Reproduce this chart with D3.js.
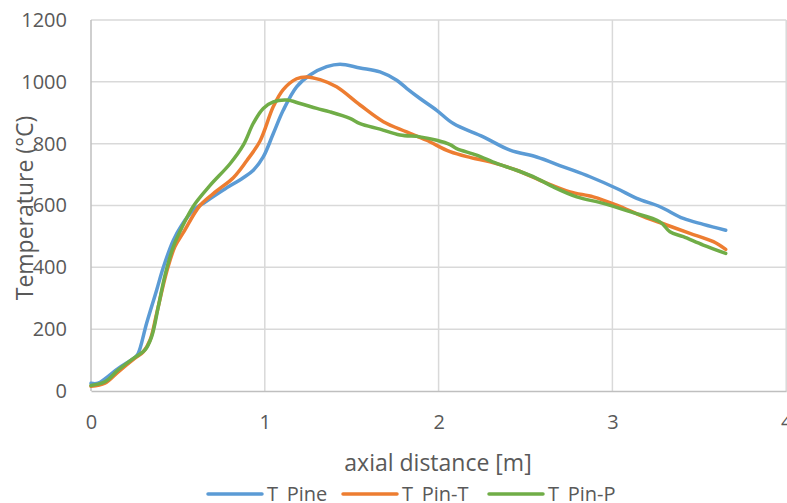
<!DOCTYPE html>
<html><head><meta charset="utf-8">
<script src="https://cdn.jsdelivr.net/npm/d3@7"></script>
<style>html,body{margin:0;padding:0;background:#fff;overflow:hidden}</style>
</head><body>
<svg id="c" width="787" height="503"></svg>
<script>
const seriesNames = ["T_Pine", "T_Pin-T", "T_Pin-P"];
const seriesColors = ["#5B9BD5", "#ED7D31", "#70AD47"];
const xTicks = [0, 1, 2, 3, 4];
const yTicks = [0, 200, 400, 600, 800, 1000, 1200];
const xTitle = "axial distance [m]";
const yTitle = "Temperature (°C)";

const tPine = [[0,25],[0.04,25],[0.157,73],[0.253,109],[0.272,122],[0.32,219],[0.378,327],[0.415,398],[0.474,488],[0.52,535],[0.589,585],[0.646,607],[0.761,650],[0.876,690],[0.934,714],[0.991,757],[1.049,833],[1.106,908],[1.183,984],[1.26,1022],[1.356,1049],[1.433,1057],[1.548,1045],[1.663,1032],[1.759,1005],[1.816,979],[1.893,946],[1.989,908],[2.085,865],[2.257,822],[2.411,779],[2.564,757],[2.718,725],[2.871,693],[3.025,655],[3.14,623],[3.274,596],[3.408,558],[3.523,539],[3.652,520]];
const tPinT = [[0,15],[0.08,25],[0.157,62],[0.253,106],[0.301,127],[0.34,165],[0.378,251],[0.435,385],[0.483,467],[0.531,512],[0.627,600],[0.723,647],[0.819,690],[0.896,745],[0.972,808],[1.049,920],[1.106,975],[1.183,1010],[1.241,1016],[1.318,1007],[1.413,984],[1.548,925],[1.682,871],[1.816,838],[1.931,811],[2.066,774],[2.185,755],[2.296,741],[2.449,714],[2.602,677],[2.756,644],[2.89,628],[3.025,601],[3.178,564],[3.312,537],[3.446,510],[3.581,483],[3.652,458]];
const tPinP = [[0,18],[0.08,30],[0.157,68],[0.253,109],[0.311,133],[0.349,176],[0.387,272],[0.426,375],[0.474,467],[0.52,525],[0.589,598],[0.685,665],[0.8,735],[0.876,795],[0.934,866],[0.991,914],[1.049,935],[1.126,941],[1.203,930],[1.299,914],[1.375,903],[1.49,882],[1.548,865],[1.663,847],[1.778,828],[1.893,822],[1.989,811],[2.066,797],[2.104,784],[2.219,763],[2.334,736],[2.449,714],[2.564,688],[2.66,660],[2.795,628],[2.948,607],[3.101,580],[3.274,547],[3.331,515],[3.408,499],[3.523,472],[3.652,445]];
const allSeries = [tPine, tPinT, tPinP];

const svg = d3.select("#c");
const font = "'Open Sans', 'Liberation Sans', sans-serif";
const textColor = "#595959";
const x = d3.scaleLinear().domain([0, 4]).range([91, 786.2]);
const y = d3.scaleLinear().domain([0, 1200]).range([391, 20]);

// gridlines
const grid = svg.append("g");
grid.selectAll("line.h").data(yTicks.filter(d => d > 0)).enter().append("line")
  .attr("x1", x(0)).attr("x2", x(4)).attr("y1", d => y(d)).attr("y2", d => y(d))
  .attr("stroke", "#d9d9d9").attr("stroke-width", 1.5);
grid.selectAll("line.v").data(xTicks.filter(d => d > 0)).enter().append("line")
  .attr("x1", d => x(d)).attr("x2", d => x(d)).attr("y1", y(0)).attr("y2", y(1200))
  .attr("stroke", "#d9d9d9").attr("stroke-width", 1.5);

// axes
const xAxis = svg.append("g").attr("transform", `translate(0,${y(0)})`)
  .call(d3.axisBottom(x).tickValues(xTicks).tickSize(0).tickPadding(24).tickFormat(d3.format("d")));
const yAxis = svg.append("g").attr("transform", `translate(${x(0)},0)`)
  .call(d3.axisLeft(y).tickValues(yTicks).tickSize(0).tickPadding(24).tickFormat(d3.format("d")));
[xAxis, yAxis].forEach(a => {
  a.select(".domain").attr("stroke", "#bfbfbf").attr("stroke-width", 1.5);
  a.selectAll("text").attr("fill", textColor).style("font-family", font).style("font-size", "20px");
});
yAxis.select(".domain").attr("d", `M0,${y(0)}V${y(1200)}`);

// lines
const line = d3.line().x(d => x(d[0])).y(d => y(d[1])).curve(d3.curveCatmullRom.alpha(0.5));
allSeries.forEach((s, i) => {
  svg.append("path").datum(s).attr("d", line).attr("fill", "none")
    .attr("stroke", seriesColors[i]).attr("stroke-width", 3.5)
    .attr("stroke-linejoin", "round").attr("stroke-linecap", "round");
});

// titles
svg.append("text").attr("x", 438).attr("y", 471).attr("text-anchor", "middle")
  .attr("fill", textColor).style("font-family", font).style("font-size", "23px").text(xTitle);
svg.append("text").attr("transform", "translate(33,208) rotate(-90)").attr("text-anchor", "middle")
  .attr("fill", textColor).style("font-family", font).style("font-size", "23px").text(yTitle);

// legend
const legX = [208, 343, 489];
seriesNames.forEach((n, i) => {
  svg.append("line").attr("x1", legX[i]).attr("x2", legX[i] + 54).attr("y1", 494).attr("y2", 494)
    .attr("stroke", seriesColors[i]).attr("stroke-width", 3.5).attr("stroke-linecap", "round");
  svg.append("text").attr("x", legX[i] + 59).attr("y", 501).attr("fill", textColor)
    .style("font-family", font).style("font-size", "20px").text(n);
});
</script>
</body></html>
